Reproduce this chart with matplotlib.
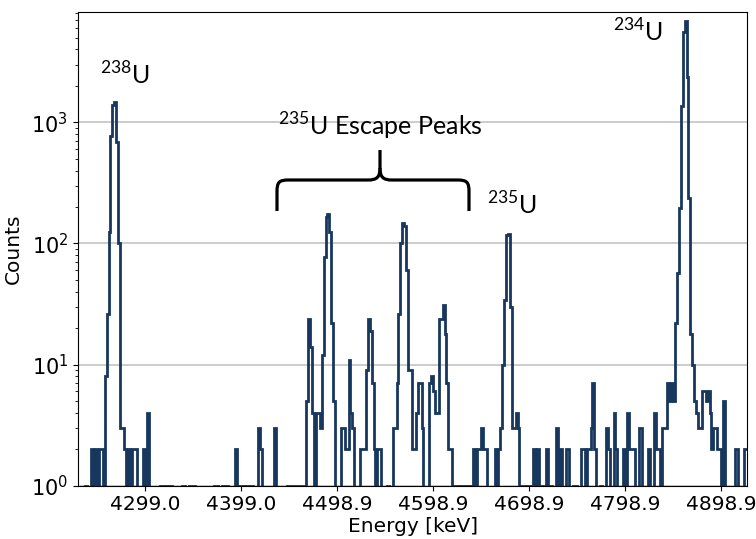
import numpy as np
import matplotlib
matplotlib.use("Agg")
import matplotlib.pyplot as plt
from matplotlib.path import Path
from matplotlib.patches import PathPatch

# ---------------- data ----------------
bin_width = 2.0
first_bin = -35          # bin index of first bin relative to 4299.0 keV
ref_energy = 4299.0
counts = [
    0, 0, 0, 0, 1, 0, 0, 2, 0, 2,            # -35
    0, 2, 2, 0, 8, 26, 125, 767, 1400, 1480,  # -25
    690, 100, 3, 3, 2, 0, 2, 0, 2, 2,         # -15
    2, 0, 0, 0, 2, 0, 4, 0, 0, 0,             # -5
    0, 0, 0, 1, 1, 0, 1, 1, 1, 0,             # 5
    0, 0, 0, 0, 1, 1, 0, 0, 1, 1,             # 15
    1, 0, 0, 0, 0, 0, 0, 0, 0, 0,             # 25
    0, 1, 1, 0, 0, 1, 1, 1, 0, 0,             # 35
    0, 0, 2, 0, 1, 1, 1, 0, 1, 1,             # 45
    1, 0, 0, 0, 3, 2, 0, 0, 0, 0,             # 55
    0, 0, 3, 0, 0, 0, 0, 0, 0, 1,             # 65
    1, 1, 1, 1, 1, 1, 1, 1, 0, 5,             # 75
    24, 14, 4, 0, 4, 4, 3, 12, 78, 165,       # 85
    175, 125, 22, 5, 0, 0, 0, 3, 3, 2,        # 95
    2, 11, 4, 3, 0, 0, 0, 2, 2, 2,            # 105
    9, 24, 19, 7, 2, 0, 2, 2, 0, 0,           # 115
    0, 1, 0, 0, 3, 3, 7, 26, 100, 149,        # 125
    140, 60, 9, 9, 2, 2, 4, 7, 7, 3,          # 135
    0, 0, 0, 7, 8, 6, 4, 4, 24, 24,           # 145
    31, 18, 7, 2, 2, 0, 1, 1, 0, 1,           # 155
    1, 1, 1, 0, 1, 1, 2, 0, 2, 2,             # 165
    3, 2, 2, 0, 0, 0, 0, 2, 0, 2,             # 175
    3, 10, 34, 117, 120, 30, 3, 3, 4, 3,      # 185
    0, 1, 1, 0, 1, 1, 0, 2, 0, 2,             # 195
    1, 1, 1, 0, 2, 0, 1, 0, 0, 3,             # 205
    0, 2, 0, 0, 2, 2, 0, 0, 1, 1,             # 215
    0, 0, 2, 2, 0, 2, 2, 3, 7, 2,             # 225
    0, 0, 1, 0, 0, 3, 2, 0, 0, 4,             # 235
    2, 0, 0, 0, 2, 0, 4, 2, 2, 2,             # 245
    0, 0, 3, 3, 0, 0, 0, 2, 0, 0,             # 255
    4, 2, 2, 0, 3, 3, 3, 7, 5, 7,             # 265
    5, 22, 57, 198, 1360, 5560, 6860, 2370, 236, 18,  # 275
    10, 5, 4, 3, 3, 6, 6, 5, 6, 4,            # 285
    2, 3, 3, 2, 2, 0, 5, 0, 0, 0,             # 295
    0, 0, 2, 2, 0, 0, 0, 2, 2,                # 305
]
tick_values = [4299.0, 4399.0, 4498.9, 4598.9, 4698.9, 4798.9, 4898.9]
tick_labels = ["4299.0", "4399.0", "4498.9", "4598.9", "4698.9", "4798.9", "4898.9"]

counts = np.asarray(counts, dtype=float)
edges = ref_energy + bin_width * np.arange(first_bin, first_bin + len(counts) + 1)

# ---------------- style ----------------
plt.rcParams["font.family"] = ["DejaVu Sans"]
plt.rcParams["mathtext.fontset"] = "custom"
plt.rcParams["mathtext.rm"] = "Lato"

W, H = 756, 539
fig = plt.figure(figsize=(W / 100, H / 100), dpi=100)
ax = fig.add_axes([78 / W, 1 - 485.7 / H, (747.3 - 78) / W, (485.7 - 11.7) / H])

ax.set_yscale("log")
ax.stairs(counts, edges, color="#17375e", linewidth=2.0, baseline=0)
ax.set_xlim(4229.2, 4926.3)
ax.set_ylim(1, 8200)

ax.set_xticks(tick_values)
ax.set_xticklabels(tick_labels)
ax.tick_params(axis="x", labelsize=14.5)
ax.tick_params(axis="y", labelsize=15)
ax.yaxis.grid(True, which="major", color="#c8c8c8", linewidth=1.3)
ax.set_axisbelow(True)
ax.set_xlabel("Energy [keV]", fontsize=14.5, labelpad=2)
ax.set_ylabel("Counts", fontsize=14.5, labelpad=6)

# ---------------- annotations ----------------
def fp(x, y):
    return (x / W, 1 - y / H)

ann_font = dict(family=["Lato", "DejaVu Sans"], fontsize=18, ha="center", va="center")
fig.text(*fp(125, 75), r"$^{\mathdefault{238}}$U", **ann_font)
fig.text(*fp(638, 32), r"$^{\mathdefault{234}}$U", **ann_font)
fig.text(*fp(512, 205), r"$^{\mathdefault{235}}$U", **ann_font)
fig.text(*fp(380, 126), r"$^{\mathdefault{235}}$U Escape Peaks", **ann_font)

left_half = [
    (Path.MOVETO, (277, 211)), (Path.LINETO, (277, 192)),
    (Path.CURVE4, (277, 182)), (Path.CURVE4, (279, 180)), (Path.CURVE4, (289, 180)),
    (Path.LINETO, (368, 180)),
    (Path.CURVE4, (377, 180)), (Path.CURVE4, (380, 177)), (Path.CURVE4, (380, 168)),
    (Path.LINETO, (380, 150)),
]
right_half = [
    (Path.MOVETO, (380, 168)),
    (Path.CURVE4, (380, 177)), (Path.CURVE4, (383, 180)), (Path.CURVE4, (392, 180)),
    (Path.LINETO, (457, 180)),
    (Path.CURVE4, (467, 180)), (Path.CURVE4, (469, 182)), (Path.CURVE4, (469, 192)),
    (Path.LINETO, (469, 211)),
]
for half in (left_half, right_half):
    codes = [c for c, _ in half]
    verts = [fp(*p) for _, p in half]
    fig.add_artist(PathPatch(Path(verts, codes), transform=fig.transFigure,
                             fill=False, edgecolor="black", linewidth=2.3,
                             capstyle="butt", joinstyle="round"))

fig.savefig("out.png", dpi=100)
